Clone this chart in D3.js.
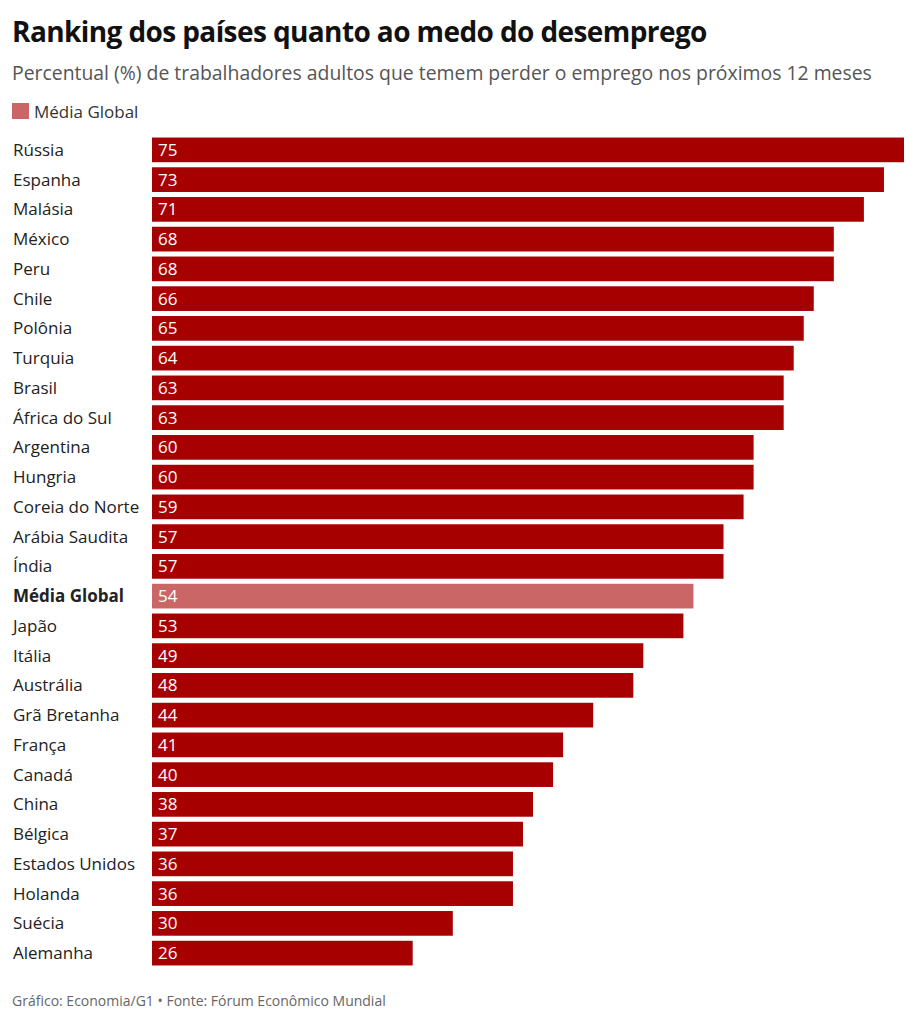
<!DOCTYPE html>
<html lang="pt">
<head>
<meta charset="UTF-8">
<title>Ranking dos países quanto ao medo do desemprego</title>
<style>
  html, body { margin: 0; padding: 0; background: #fff; }
  svg { display: block; font-family: "Open Sans", sans-serif; }
</style>
</head>
<body>
<svg id="chart" width="918" height="1024"></svg>
<script src="https://cdn.jsdelivr.net/npm/d3@7"></script>
<script>
// dados
const countries = ['Rússia', 'Espanha', 'Malásia', 'México', 'Peru', 'Chile', 'Polônia', 'Turquia',
  'Brasil', 'África do Sul', 'Argentina', 'Hungria', 'Coreia do Norte', 'Arábia Saudita', 'Índia',
  'Média Global', 'Japão', 'Itália', 'Austrália', 'Grã Bretanha', 'França', 'Canadá', 'China',
  'Bélgica', 'Estados Unidos', 'Holanda', 'Suécia', 'Alemanha'];
const values = [75, 73, 71, 68, 68, 66, 65, 64, 63, 63, 60, 60, 59, 57, 57, 54, 53, 49, 48, 44,
  41, 40, 38, 37, 36, 36, 30, 26];
const highlight = 'Média Global';

const svg = d3.select('#chart');

// título e subtítulo
svg.append('text')
  .attr('x', 12).attr('y', 42)
  .attr('font-size', 28).attr('font-weight', 700)
  .attr('letter-spacing', -0.6)
  .attr('fill', '#111')
  .text('Ranking dos países quanto ao medo do desemprego');

svg.append('text')
  .attr('x', 12).attr('y', 80)
  .attr('font-size', 19.4).attr('fill', '#555')
  .text('Percentual (%) de trabalhadores adultos que temem perder o emprego nos próximos 12 meses');

// legenda
svg.append('rect')
  .attr('x', 12).attr('y', 103).attr('width', 17).attr('height', 16)
  .attr('fill', '#cb6666');
svg.append('text')
  .attr('x', 34).attr('y', 118)
  .attr('font-size', 17).attr('fill', '#333')
  .text('Média Global');

// escalas
const x = d3.scaleLinear().domain([0, d3.max(values)]).range([152, 904]);
const y = d3.scaleBand().domain(countries).range([135, 968])
  .paddingInner(0.17).paddingOuter(0.085);

const rows = svg.append('g').selectAll('g')
  .data(countries)
  .join('g');

rows.append('rect')
  .attr('x', x(0))
  .attr('y', d => y(d))
  .attr('width', (d, i) => x(values[i]) - x(0))
  .attr('height', y.bandwidth())
  .attr('fill', d => d === highlight ? '#cb6666' : '#a60000');

rows.append('text')
  .attr('x', x(0) + 6)
  .attr('y', d => y(d) + y.bandwidth() / 2)
  .attr('dy', '0.36em')
  .attr('font-size', 17)
  .attr('fill', '#fff')
  .text((d, i) => values[i]);

// rótulos dos países
rows.append('text')
  .attr('x', 13)
  .attr('y', d => y(d) + y.bandwidth() / 2)
  .attr('dy', '0.36em')
  .attr('font-size', 17)
  .attr('font-weight', d => d === highlight ? 700 : 400)
  .attr('fill', '#222')
  .text(d => d);

// rodapé
svg.append('text')
  .attr('x', 12).attr('y', 1006)
  .attr('font-size', 14).attr('fill', '#666')
  .text('Gráfico: Economia/G1 • Fonte: Fórum Econômico Mundial');
</script>
</body>
</html>
